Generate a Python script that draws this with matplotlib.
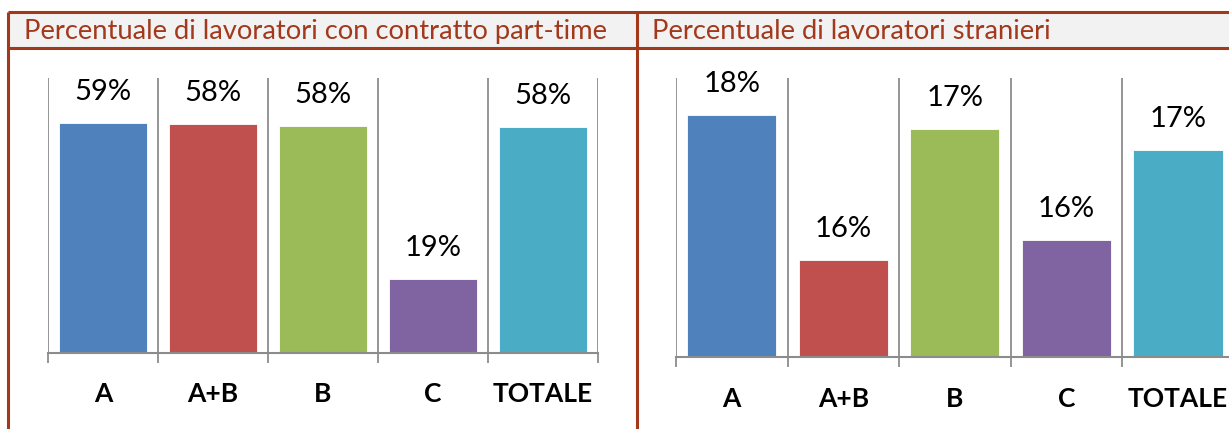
import matplotlib
matplotlib.use('Agg')
import matplotlib.pyplot as plt
from matplotlib.patches import Rectangle
from matplotlib.lines import Line2D

categories = ['A', 'A+B', 'B', 'C', 'TOTALE']
part_time = [58.6, 58.2, 57.8, 18.8, 57.5]
stranieri = [17.55, 16.24, 17.42, 16.42, 17.23]
titles = ['Percentuale di lavoratori con contratto part-time',
          'Percentuale di lavoratori stranieri']
colors = ['#4F81BD', '#C0504D', '#9BBB59', '#8064A2', '#4BACC6']

W, H = 1229, 429
plt.rcParams['font.family'] = ['Lato', 'DejaVu Sans']
fig = plt.figure(figsize=(W / 100, H / 100), dpi=100)

border = '#A3391C'
grid_col = '#8C8C8C'


def px(x0, y0, x1, y1):
    # pixel box -> figure fraction [left, bottom, width, height]
    return [x0 / W, 1 - y1 / H, (x1 - x0) / W, (y1 - y0) / H]


# header band and frame
fig.add_artist(Rectangle((8 / W, 1 - 48 / H), 1, 36 / H, transform=fig.transFigure,
                         facecolor='#F2F2F2', edgecolor='none', zorder=0))
lw = 2.2
for (x0, y0, x1, y1) in [(8, 12, W, 12), (8, 48, W, 48), (8, 12, 8, H), (637, 12, 637, H)]:
    fig.add_artist(Line2D([x0 / W, x1 / W], [1 - y0 / H, 1 - y1 / H], transform=fig.transFigure,
                          color=border, lw=lw, solid_capstyle='butt'))
fig.text(24 / W, 1 - 31.5 / H, titles[0], color=border, fontsize=19.7, va='center')
fig.text(652 / W, 1 - 31.5 / H, titles[1], color=border, fontsize=19.7, va='center')


def draw(ax, values, ylim, pad):
    x = range(len(categories))
    bars = ax.bar(x, values, width=0.8, color=colors, edgecolor='white', linewidth=0.6, zorder=2)
    ax.set_xlim(-0.5, len(categories) - 0.5)
    ax.set_ylim(*ylim)
    for b, v in zip(bars, values):
        ax.annotate('%.0f%%' % v, (b.get_x() + b.get_width() / 2, v),
                    xytext=(0, 31), textcoords='offset pixels',
                    ha='center', va='center', fontsize=21)
    ax.set_xticks(list(x))
    ax.set_xticklabels(categories, fontweight='bold', fontsize=19)
    ax.tick_params(axis='x', which='major', length=0, pad=pad)
    ax.set_xticks([i - 0.5 for i in range(len(categories) + 1)], minor=True)
    ax.tick_params(axis='x', which='minor', length=7.5, color=grid_col, width=1.3)
    ax.grid(axis='x', which='minor', color=grid_col, lw=1.3, zorder=1)
    ax.set_yticks([])
    for s in ['top', 'right', 'left']:
        ax.spines[s].set_visible(False)
    ax.spines['bottom'].set_color(grid_col)
    ax.spines['bottom'].set_linewidth(1.5)
    ax.patch.set_alpha(0)


ax1 = fig.add_axes(px(48, 78, 598, 352.7))
draw(ax1, part_time, (0, 70), 21)
ax2 = fig.add_axes(px(676, 78, 1233.7, 356.7))
draw(ax2, stranieri, (15.37, 17.88), 21.5)

fig.savefig('out.png', dpi=100)
